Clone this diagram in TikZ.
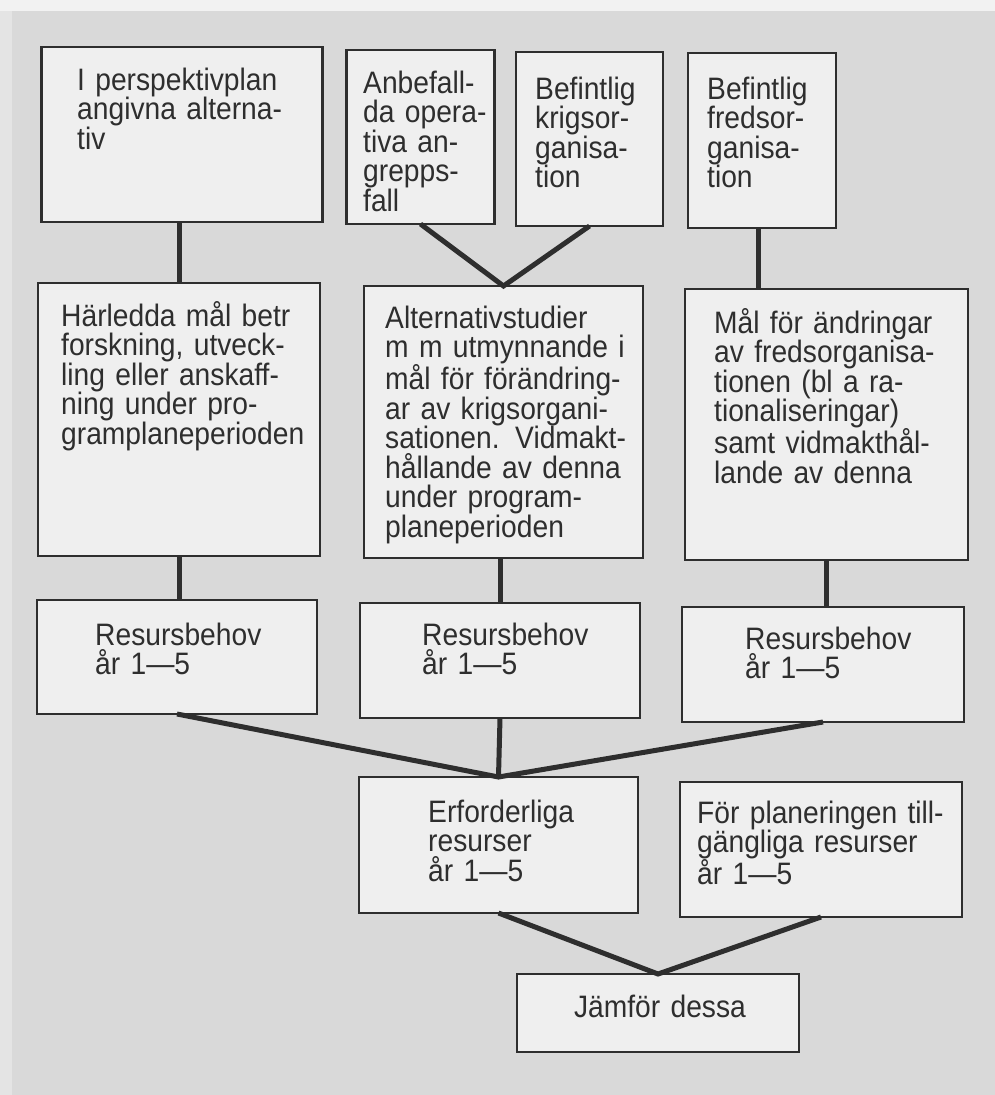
\documentclass[tikz,border=0pt]{standalone}
\usepackage{fontspec}
\setmainfont{Liberation Sans}[FakeStretch=0.91]
\definecolor{paper}{HTML}{D9D9D9}
\definecolor{margin}{HTML}{F2F2F2}
\definecolor{sidestrip}{HTML}{E4E4E4}
\definecolor{boxfill}{HTML}{EFEFEF}
\definecolor{ink}{HTML}{2E2E2E}
\tikzset{
  panelbox/.style={draw=ink, fill=boxfill, line width=2.6pt, inner sep=0pt, outer sep=0pt},
  lbl/.style={text=ink, inner sep=0pt, anchor=base west, align=left, text width=280pt,
              font=\fontsize{31}{29.5}\selectfont},
  link/.style={draw=ink, line width=5pt, line join=miter}
}
% box: name, centre x, centre y, width, height
\newcommand\panel[5]{\node[panelbox, minimum width=#4pt, minimum height=#5pt] (#1) at (#2,#3) {};}
\begin{document}
\begin{tikzpicture}[x=1pt,y=-1pt]
\useasboundingbox (0,0) rectangle (995,1095);
\fill[paper] (0,0) rectangle (995,1095);
\fill[sidestrip] (0,0) rectangle (12,1095);
\fill[margin] (0,0) rectangle (995,11);

\panel{A}{182}{134.5}{281}{175}
\panel{B}{420.5}{137}{148}{174}
\panel{C}{589.5}{139}{147}{174}
\panel{D}{762}{140.5}{148}{175}
\panel{E}{179}{419.5}{282}{273}
\panel{F}{503.5}{422}{279}{272}
\panel{G}{826.5}{424.5}{283}{271}
\panel{H}{177}{657}{280}{114}
\panel{I}{500}{660.5}{280}{115}
\panel{J}{823}{664.5}{282}{115}
\panel{K}{498.5}{845}{279}{136}
\panel{L}{821}{849.5}{282}{135}
\panel{M}{658}{1013}{282}{78}

% connectors between the boxes
\draw[link] (E.north) -- (E.north |- A.south);
\draw[link] (B.south) -- (F.north) -- (C.south);
\draw[link] ([xshift=-4pt]D.south) -- ([xshift=-4pt]D.south |- G.north);
\draw[link] (E.south) -- (E.south |- H.north);
\draw[link] (I.north) -- (I.north |- F.south);
\draw[link] (G.south) -- (G.south |- J.north);
\draw[link] (H.south) -- (K.north) -- (J.south);
\draw[link] (I.south) -- (K.north);
\draw[link] (K.south) -- (M.north) -- (L.south);

% redraw the box outlines over the connector ends
\foreach \n in {A,B,C,D,E,F,G,H,I,J,K,L,M}
  \draw[draw=ink, line width=2.6pt] (\n.north west) rectangle (\n.south east);

\node[lbl] (tA) at (77,90) {I perspektivplan\\angivna alterna-\\tiv};
\node[lbl] (tB) at (363,93) {Anbefall-\\da opera-\\tiva an-\\grepps-\\fall};
\node[lbl] (tC) at (535,99) {Befintlig\\krigsor-\\ganisa-\\tion};
\node[lbl] (tD) at (707,99) {Befintlig\\fredsor-\\ganisa-\\tion};
\node[lbl] (tE) at (61,326) {Härledda mål betr\\forskning, utveck-\\ling eller anskaff-\\ning under pro-\\gramplaneperioden};
\node[lbl] (tF) at (385,328) {Alternativstudier\\m m utmynnande i\\mål för förändring-\\ar av krigsorgani-\\sationen. Vidmakt-\\hållande av denna\\under program-\\planeperioden};
\node[lbl] (tG) at (714,333) {Mål för ändringar\\av fredsorganisa-\\tionen (bl a ra-\\tionaliseringar)\\samt vidmakthål-\\lande av denna};
\node[lbl] (tH) at (95,645) {Resursbehov\\år 1—5};
\node[lbl] (tI) at (422,645) {Resursbehov\\år 1—5};
\node[lbl] (tJ) at (745,649) {Resursbehov\\år 1—5};
\node[lbl] (tK) at (428,822) {Erforderliga\\resurser\\år 1—5};
\node[lbl] (tL) at (697,823) {För planeringen till-\\gängliga resurser\\år 1—5};
\node[lbl, anchor=base, align=center, text width=260pt] (tM) at (660,1017) {Jämför dessa};
\end{tikzpicture}
\end{document}
